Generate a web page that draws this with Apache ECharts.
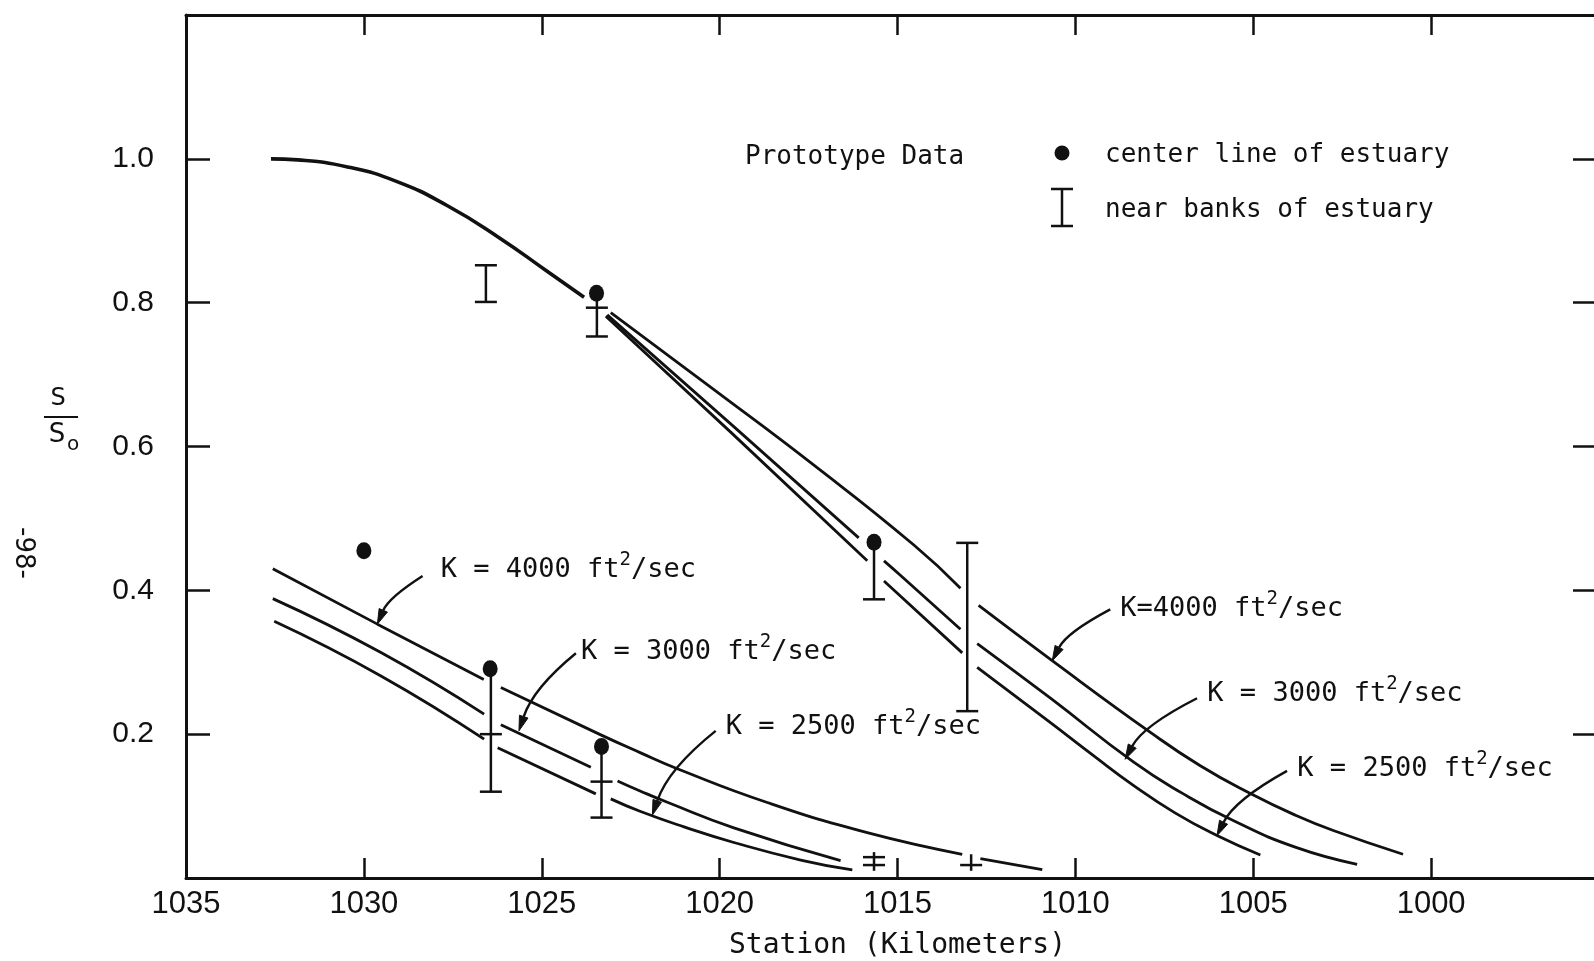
<!DOCTYPE html>
<html>
<head>
<meta charset="utf-8">
<title>S/S0 along the estuary</title>
<script src="https://cdn.jsdelivr.net/npm/echarts@6/dist/echarts.min.js"></script>
<style>
  html, body { margin: 0; padding: 0; background: #fff; }
  #chart { width: 1594px; height: 961px; }
</style>
</head>
<body>
<div id="chart"></div>
<script>
// Salinity ratio S/S0 against station (km) for computed curves with
// K = 4000, 3000 and 2500 ft²/sec, plus prototype measurements.

const xTicks = [1035, 1030, 1025, 1020, 1015, 1010, 1005, 1000];
const yTicks = [0.2, 0.4, 0.6, 0.8, 1.0];

// Upper family: shared head, then three branches (segments break at the data marks)
const upperHead = [[1032.61, 1.0], [1031.86, 0.9985], [1030.46, 0.9888], [1029.05, 0.968],
  [1027.65, 0.9347], [1026.24, 0.8918], [1024.84, 0.8433], [1023.81, 0.8075]];
const upperK4000 = [
  [[1023.06, 0.786], [1020.16, 0.679], [1017.35, 0.574], [1014.54, 0.463], [1013.23, 0.403]],
  [[1012.72, 0.379], [1010.70, 0.304], [1007.89, 0.2025], [1006.5, 0.1565], [1005.08, 0.1175], [1003.8, 0.087], [1002.75, 0.066], [1000.79, 0.033]]
];
const upperK3000 = [
  [[1023.16, 0.783], [1019.61, 0.628], [1016.09, 0.473]],
  [[1015.38, 0.441], [1014.92, 0.421], [1013.23, 0.346]],
  [[1012.76, 0.326], [1010.70, 0.250], [1008.36, 0.161], [1007.0, 0.118], [1005.55, 0.0795], [1003.8, 0.0425], [1002.08, 0.019]]
];
const upperK2500 = [
  [[1023.2, 0.781], [1019.69, 0.620], [1015.85, 0.441]],
  [[1015.38, 0.413], [1014.92, 0.392], [1013.18, 0.313]],
  [[1012.76, 0.293], [1010.70, 0.216], [1009.5, 0.1705], [1008.36, 0.1285], [1007.2, 0.0905], [1006.02, 0.059], [1004.80, 0.032]]
];

// Lower family
const lowerK4000 = [
  [[1032.56, 0.430], [1029.62, 0.353], [1026.63, 0.276]],
  [[1026.15, 0.265], [1023.34, 0.199], [1022.22, 0.174], [1021.19, 0.152], [1018.66, 0.105], [1015.85, 0.063], [1013.18, 0.033]],
  [[1012.67, 0.027], [1010.93, 0.0115]]
];
const lowerK3000 = [
  [[1032.56, 0.3885], [1029.52, 0.3135], [1026.62, 0.2278]],
  [[1026.15, 0.213], [1023.62, 0.154]],
  [[1022.87, 0.135], [1022.22, 0.1207], [1021.47, 0.1053], [1019.60, 0.0698], [1016.60, 0.0242]]
];
const lowerK2500 = [
  [[1032.52, 0.357], [1029.52, 0.281], [1026.62, 0.193]],
  [[1026.24, 0.181], [1023.48, 0.117]],
  [[1023.06, 0.110], [1022.22, 0.0924], [1021.0, 0.0711], [1019.60, 0.0494], [1017.72, 0.025], [1016.27, 0.0112]]
];

// Prototype data: center line of estuary
const centreKm = [1030.0, 1026.45, 1023.46, 1023.32, 1015.66];
const centreV = [0.455, 0.291, 0.813, 0.183, 0.467];

// Prototype data: near banks of estuary (vertical range and capped levels)
const bankKm     = [1026.57, 1023.45, 1015.66, 1013.04, 1026.43, 1023.32, 1015.66, 1012.93];
const bankLineLo = [0.801, 0.753, 0.3875, 0.232, 0.120, 0.084, 0.010, 0.010];
const bankLineHi = [0.852, 0.813, 0.467, 0.466, 0.291, 0.183, 0.036, 0.033];
const bankCapLo  = [0.801, 0.753, 0.3875, 0.232, 0.120, 0.084, 0.018, 0.018];
const bankCapHi  = [0.852, 0.793, null, 0.466, 0.200, 0.134, 0.029, null];

// Curve labels with leader arrows
const kLabels = ['K = 4000 ft²/sec', 'K = 3000 ft²/sec', 'K = 2500 ft²/sec',
  'K=4000 ft²/sec', 'K = 3000 ft²/sec', 'K = 2500 ft²/sec'];
const kLabelAt = [[1027.84, 0.428], [1023.90, 0.314], [1019.83, 0.2097],
  [1008.74, 0.3736], [1006.29, 0.2556], [1003.76, 0.151]];
const kArrowFrom = [[1028.35, 0.42], [1024.04, 0.3125], [1020.11, 0.2046],
  [1009.02, 0.3736], [1006.58, 0.25], [1004.05, 0.149]];
const kArrowTo = [[1029.62, 0.353], [1025.64, 0.2046], [1021.89, 0.0875],
  [1010.65, 0.302], [1008.60, 0.165], [1006.02, 0.0588]];

const INK = '#111';
const TICK_FONT = '"Liberation Sans", Arial, sans-serif';
const TEXT_FONT = '"DejaVu Sans", sans-serif';
const MONO_FONT = '"DejaVu Sans Mono", monospace';

function joinSegments(segs) {
  const out = [];
  segs.forEach((s, i) => { if (i) out.push([null, null]); out.push(...s); });
  return out;
}

function curve(name, data, width) {
  return {
    type: 'line', name, data, showSymbol: false, symbol: 'none',
    smooth: 0.5, connectNulls: false, silent: true, z: 2,
    lineStyle: { color: INK, width }
  };
}

const chart = echarts.init(document.getElementById('chart'), null, { renderer: 'canvas' });

const isTick = (list, v) => list.some(t => Math.abs(t - v) < 1e-9);

const axisX = (pos, withLabels) => ({
  type: 'value', min: 995, max: 1035, interval: 5, inverse: true, position: pos,
  axisLine: { show: true, onZero: false, lineStyle: { color: INK, width: 3 } },
  axisTick: { show: true, inside: true, length: 20, lineStyle: { color: INK, width: 2.5 } },
  axisLabel: withLabels ? {
    show: true, margin: 11, fontSize: 31, fontFamily: TICK_FONT, color: INK,
    formatter: v => isTick(xTicks, v) ? String(v) : ''
  } : { show: false },
  splitLine: { show: false }
});

const axisY = (pos, withLabels, tickLen) => ({
  type: 'value', min: 0, max: 1.2, interval: 0.2, position: pos,
  axisLine: { show: true, onZero: false, lineStyle: { color: INK, width: 3 } },
  axisTick: { show: true, inside: true, length: tickLen, lineStyle: { color: INK, width: 2.5 } },
  axisLabel: withLabels ? {
    show: true, margin: 32, fontSize: 30, fontFamily: TICK_FONT, color: INK,
    formatter: v => isTick(yTicks, v) ? v.toFixed(1) : ''
  } : { show: false },
  splitLine: { show: false }
});

const bottomAxis = axisX('bottom', true);
bottomAxis.name = 'Station (Kilometers)';
bottomAxis.nameLocation = 'middle';
bottomAxis.nameGap = 54;
bottomAxis.nameTextStyle = { fontFamily: MONO_FONT, fontSize: 28, color: INK };

const textStyle = (text, font, align) => ({
  text, fill: INK, font, align: align || 'left', verticalAlign: 'middle',
  textAlign: align || 'left', textVerticalAlign: 'middle'
});

const option = {
  backgroundColor: '#fff',
  animation: false,
  grid: { left: 186, width: 1423, top: 15, bottom: 83, containLabel: false, outerBoundsMode: 'none' },
  xAxis: [bottomAxis, axisX('top', false)],
  yAxis: [axisY('left', true, 24), axisY('right', false, 36)],
  series: [
    curve('head', upperHead, 3.6),
    curve('K = 4000 (upper)', joinSegments(upperK4000), 2.8),
    curve('K = 3000 (upper)', joinSegments(upperK3000), 2.8),
    curve('K = 2500 (upper)', joinSegments(upperK2500), 2.8),
    curve('K = 4000 (lower)', joinSegments(lowerK4000), 2.8),
    curve('K = 3000 (lower)', joinSegments(lowerK3000), 2.8),
    curve('K = 2500 (lower)', joinSegments(lowerK2500), 2.8),
    {
      type: 'custom', name: 'near banks of estuary', z: 4, silent: true,
      data: bankKm.map((k, i) => [k, bankLineLo[i], bankLineHi[i],
        bankCapLo[i] == null ? NaN : bankCapLo[i], bankCapHi[i] == null ? NaN : bankCapHi[i]]),
      encode: { x: 0, y: [1, 2] },
      renderItem(params, api) {
        const k = api.value(0);
        const x = api.coord([k, 0])[0];
        const y1 = api.coord([k, api.value(1)])[1];
        const y2 = api.coord([k, api.value(2)])[1];
        const style = { stroke: INK, lineWidth: 2.5, fill: null };
        const kids = [{ type: 'line', shape: { x1: x, y1: y1, x2: x, y2: y2 }, style }];
        [3, 4].forEach(d => {
          const v = api.value(d);
          if (Number.isFinite(v)) {
            const y = api.coord([k, v])[1];
            kids.push({ type: 'line', shape: { x1: x - 11, y1: y, x2: x + 11, y2: y }, style });
          }
        });
        return { type: 'group', children: kids };
      }
    },
    {
      type: 'scatter', name: 'center line of estuary', z: 5, silent: true,
      data: centreKm.map((k, i) => [k, centreV[i]]),
      symbol: 'circle', symbolSize: [15, 17],
      itemStyle: { color: INK, opacity: 1 }
    },
    {
      type: 'custom', name: 'curve labels', z: 6, silent: true,
      data: kLabelAt.map((p, i) => [p[0], p[1], kArrowFrom[i][0], kArrowFrom[i][1], kArrowTo[i][0], kArrowTo[i][1]]),
      encode: { x: [0, 2, 4], y: [1, 3, 5] },
      renderItem(params, api) {
        const i = params.dataIndex;
        const p = api.coord([api.value(0), api.value(1)]);
        const s = api.coord([api.value(2), api.value(3)]);
        const t = api.coord([api.value(4), api.value(5)]);
        const dx = s[0] - t[0], dy = t[1] - s[1];
        const c = [t[0] + 0.25 * dx, s[1] + 0.45 * dy];
        let ux = t[0] - c[0], uy = t[1] - c[1];
        const len = Math.hypot(ux, uy) || 1;
        ux /= len; uy /= len;
        const head = 15, half = 4.5;
        const b = [t[0] - ux * head, t[1] - uy * head];
        const n = [-uy, ux];
        // superscript 2 set as a raised rich-text token
        const parts = kLabels[i].split('²');
        const rich = '{m|' + parts[0] + '}{s|2}{m|' + parts[1] + '}';
        return {
          type: 'group',
          children: [
            {
              type: 'bezierCurve',
              shape: { x1: s[0], y1: s[1], x2: b[0], y2: b[1], cpx1: c[0], cpy1: c[1] },
              style: { stroke: INK, lineWidth: 2.4, fill: null }
            },
            {
              type: 'polygon',
              shape: { points: [t, [b[0] + n[0] * half, b[1] + n[1] * half], [b[0] - n[0] * half, b[1] - n[1] * half]] },
              style: { fill: INK, stroke: INK, lineWidth: 1 }
            },
            {
              type: 'text', x: p[0], y: p[1],
              style: {
                text: rich, fill: INK, align: 'left', verticalAlign: 'middle',
                textAlign: 'left', textVerticalAlign: 'middle',
                rich: {
                  m: { fontFamily: MONO_FONT, fontSize: 27, lineHeight: 40, fill: INK, color: INK },
                  s: { fontFamily: MONO_FONT, fontSize: 19, lineHeight: 20, verticalAlign: 'top', fill: INK, color: INK }
                }
              }
            }
          ]
        };
      }
    }
  ],
  graphic: [
    // key for the prototype data
    { type: 'text', x: 745, y: 157, style: textStyle('Prototype Data', '26px ' + MONO_FONT) },
    { type: 'circle', shape: { cx: 1062, cy: 153, r: 7.5 }, style: { fill: INK } },
    { type: 'text', x: 1105, y: 155, style: textStyle('center line of estuary', '26px ' + MONO_FONT) },
    { type: 'line', shape: { x1: 1062, y1: 189, x2: 1062, y2: 226 }, style: { stroke: INK, lineWidth: 2.5 } },
    { type: 'line', shape: { x1: 1051, y1: 189, x2: 1073, y2: 189 }, style: { stroke: INK, lineWidth: 2.5 } },
    { type: 'line', shape: { x1: 1051, y1: 226, x2: 1073, y2: 226 }, style: { stroke: INK, lineWidth: 2.5 } },
    { type: 'text', x: 1105, y: 210, style: textStyle('near banks of estuary', '26px ' + MONO_FONT) },
    // y-axis quantity S / S0
    { type: 'text', x: 58, y: 399, style: textStyle('S', '24px ' + TEXT_FONT, 'center') },
    { type: 'line', shape: { x1: 44, y1: 417, x2: 78, y2: 417 }, style: { stroke: INK, lineWidth: 2 } },
    { type: 'text', x: 57, y: 435, style: textStyle('S', '26px ' + TEXT_FONT, 'center') },
    { type: 'text', x: 73, y: 445, style: textStyle('o', '20px ' + TEXT_FONT, 'center') },
    // page number in the margin
    { type: 'text', x: 23, y: 553, rotation: -Math.PI / 2, style: textStyle('-98-', '26px ' + TEXT_FONT, 'center') }
  ]
};

chart.setOption(option);
</script>
</body>
</html>
